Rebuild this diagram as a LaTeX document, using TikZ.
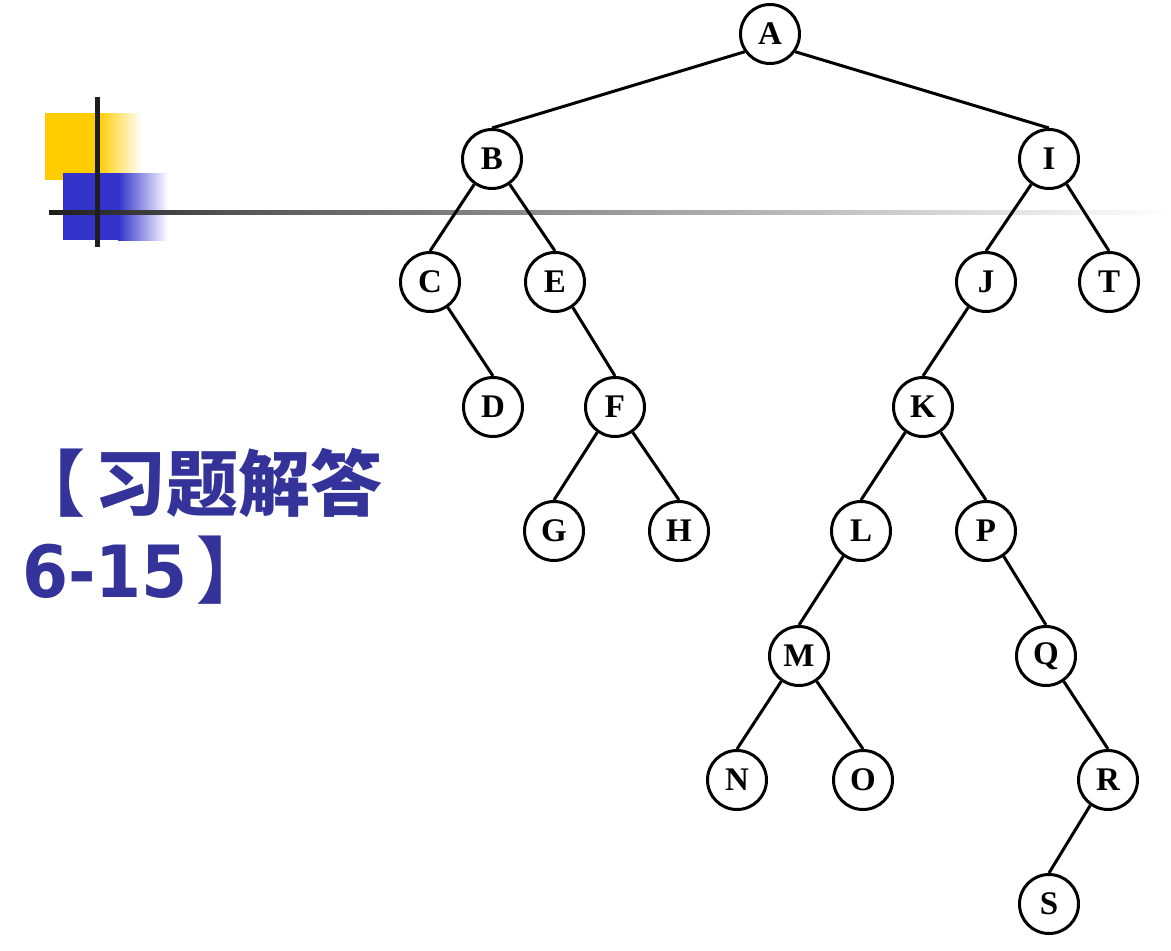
\documentclass[tikz,border=0pt]{standalone}
\usepackage{fontspec}
\setmainfont{Liberation Serif}
\newfontfamily\cjk{Noto Sans CJK SC}
\newfontfamily\digfont{DejaVu Sans}
\definecolor{titleblue}{HTML}{333399}
\definecolor{decoyellow}{HTML}{FFCC00}
\definecolor{decoblue}{HTML}{3333CC}
\definecolor{decodark}{HTML}{1E1E1E}
\definecolor{linemid}{HTML}{555555}
\tikzset{
  tnode/.style={circle, draw=black, line width=3pt, fill=white, minimum size=59pt, inner sep=0pt,
    font=\bfseries\fontsize{33}{33}\selectfont},
  edge/.style={line width=3pt, black},
  title/.style={inner sep=0pt, text=titleblue, font=\bfseries\fontsize{72}{72}\selectfont},
}
\begin{document}
\begin{tikzpicture}[x=1pt,y=-1pt]
\useasboundingbox (0,0) rectangle (1171,951);
% decoration
\fill[decoyellow] (45,113) rectangle (98,180);
\shade[left color=decoyellow, right color=white] (98,113) rectangle (142,180);
\fill[decoblue] (63,173) rectangle (118,240);
\shade[left color=decoblue, right color=white] (118,173) rectangle (168,240);
\shade[left color=decodark, right color=linemid] (49,210) rectangle (230,214);
\shade[left color=linemid, right color=white] (230,210) rectangle (1171,214);
\fill[decodark] (94.5,97) rectangle (99.5,247);
% title
\node[title, anchor=base west] (t1) at (13,510) {\cjk 【\hspace{9pt}习题解答};
\node[title, anchor=base west] (t2) at (22,597) {\scalebox{0.92}[1]{\digfont 6-15}\hspace{9pt}\cjk 】};
% tree nodes
\node[tnode] (A) at (770,34) {A};
\node[tnode] (B) at (492,159) {B};
\node[tnode] (I) at (1049,159) {I};
\node[tnode] (C) at (430,282) {C};
\node[tnode] (E) at (555,282) {E};
\node[tnode] (J) at (986,282) {J};
\node[tnode] (T) at (1109,282) {T};
\node[tnode] (D) at (493,407) {D};
\node[tnode] (F) at (615,407) {F};
\node[tnode] (K) at (923,407) {K};
\node[tnode] (G) at (554,531) {G};
\node[tnode] (H) at (679,531) {H};
\node[tnode] (L) at (861,531) {L};
\node[tnode] (P) at (986,531) {P};
\node[tnode] (M) at (799,656) {M};
\node[tnode] (Q) at (1046,656) {Q};
\node[tnode] (N) at (737,780) {N};
\node[tnode] (O) at (863,780) {O};
\node[tnode] (R) at (1108,780) {R};
\node[tnode] (S) at (1049,904) {S};
% edges: parent boundary point -> child top
\draw[edge] (A.-145) -- (B.north);
\draw[edge] (A.-35) -- (I.north);
\foreach \u/\v in {B/C, F/G, I/J, J/K, K/L, L/M, M/N, R/S}
  \draw[edge] (\u.-125) -- (\v.north);
\foreach \u/\v in {B/E, C/D, E/F, F/H, I/T, K/P, M/O, P/Q, Q/R}
  \draw[edge] (\u.-55) -- (\v.north);
\end{tikzpicture}
\end{document}
